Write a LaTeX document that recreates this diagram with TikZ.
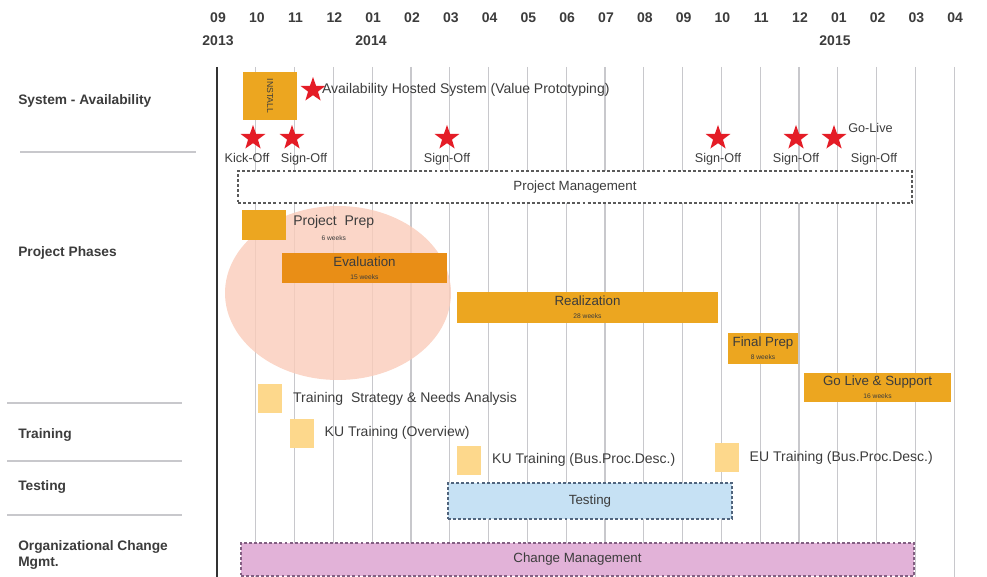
\documentclass[tikz,border=0pt]{standalone}
\usepackage{fontspec}
\setmainfont{Liberation Sans}
\usepackage{tikz}
\usetikzlibrary{shapes.geometric, positioning}
\definecolor{barorange}{RGB}{236,166,32}
\definecolor{evalorange}{RGB}{233,142,22}
\definecolor{salmonfill}{RGB}{250,204,186}
\definecolor{paleyellow}{RGB}{253,216,140}
\definecolor{testblue}{RGB}{198,225,244}
\definecolor{testedge}{RGB}{80,100,125}
\definecolor{changepink}{RGB}{226,178,216}
\definecolor{changeedge}{RGB}{130,95,130}
\definecolor{pmedge}{RGB}{90,90,90}
\definecolor{gridgray}{RGB}{200,200,204}
\definecolor{textgray}{RGB}{60,60,60}
\definecolor{starred}{RGB}{228,28,38}
\newlength\pxu
\setlength\pxu{0.75pt}
\tikzset{
  lbl/.style={font=\fontsize{9.5}{11}\selectfont, text=textgray, inner sep=0pt},
  note/.style={lbl, font=\fontsize{10.5}{12}\selectfont},
  side/.style={font=\fontsize{10.3}{12.5}\selectfont\bfseries, text=textgray,
    anchor=west, align=left, inner sep=0pt},
  month/.style={font=\fontsize{10.5}{12}\selectfont\bfseries, text=textgray, inner sep=0pt},
  phase/.style={rectangle, fill=barorange, inner sep=0pt, align=center,
    font=\fontsize{10}{10}\selectfont, text=textgray},
  sq/.style={rectangle, fill=paleyellow, inner sep=0pt,
    minimum width=24\pxu, minimum height=29\pxu},
  dashbox/.style={rectangle, line width=0.9pt, dash pattern=on 2.2pt off 1.6pt,
    inner sep=0pt, font=\fontsize{10}{11}\selectfont, text=textgray},
  mstone/.style={star, star points=5, star point ratio=2.5, fill=starred,
    inner sep=0pt, minimum size=26\pxu},
  sepline/.style={gridgray, line width=1pt}
}

\begin{document}
\begin{tikzpicture}[x=0.75pt, y=-0.75pt]
  \useasboundingbox (0,0) rectangle (987,577);

  \foreach \m in {1,...,19}
    \draw[gridgray, line width=0.8pt] ({217+38.8*\m},67) -- ({217+38.8*\m},577);
  \draw[black!80, line width=1.6pt] (217,67) -- (217,577);

  \foreach \lbl [count=\i from 0] in {09,10,11,12,01,02,03,04,05,06,07,08,09,10,11,12,01,02,03,04}
    \node[month] (mon\i) at ({218+38.8*\i},18) {\lbl};
  \node[month] (yr13) at (218,41) {2013};
  \node[month] (yr14) at (371,41) {2014};
  \node[month] (yr15) at (835,41) {2015};

  \node[side] (sysav)  at (18,101) {System - Availability};
  \node[side] (phases) at (18,253) {Project Phases};
  \node[side] (train)  at (18,435) {Training};
  \node[side] (test)   at (18,487) {Testing};
  \node[side] (ocm)    at (18,555) {Organizational Change\\Mgmt.};
  \draw[sepline] (20,152) -- (196,152);
  \draw[sepline] (7,403) -- (182,403);
  \draw[sepline] (7,461) -- (182,461);
  \draw[sepline] (7,515) -- (182,515);

  \node[ellipse, fill=salmonfill, fill opacity=0.8, inner sep=0pt,
        minimum width=226\pxu, minimum height=174\pxu] (focus) at (338,293) {};

  \node[phase, minimum width=54\pxu, minimum height=48\pxu] (install) at (270,96) {};
  \node[rotate=-90, inner sep=0pt, font=\fontsize{6.5}{7}\selectfont, text=textgray] (installtxt) at (install) {INSTALL};
  \node[mstone] (hosted) at (313,90) {};
  \node[note, right=1pt of hosted] (hostedtxt) {Availability Hosted System (Value Prototyping)};

  \node[mstone] (ms0) at (253,138) {};
  \node[mstone] (ms1) at (292,138) {};
  \node[mstone] (ms2) at (447,138) {};
  \node[mstone] (ms3) at (718,138) {};
  \node[mstone] (ms4) at (796,138) {};
  \node[mstone] (ms5) at (834,138) {};
  \node[lbl, below=7.5pt of ms0, xshift=-4.5pt] (kick) {Kick-Off};
  \node[lbl, below=7.5pt of ms1, xshift=9pt] (so1) {Sign-Off};
  \node[lbl, below=7.5pt of ms2] (so2) {Sign-Off};
  \node[lbl, below=7.5pt of ms3] (so3) {Sign-Off};
  \node[lbl, below=7.5pt of ms4] (so4) {Sign-Off};
  \node[lbl, below=7.5pt of ms5, xshift=30pt] (so5) {Sign-Off};
  \node[lbl, anchor=west] (golive) at (848,128) {Go-Live};

  \node[dashbox, draw=pmedge, fill=white, minimum width=674\pxu, minimum height=32\pxu] (pm) at (575,187) {Project Management};

  \node[phase, minimum width=44\pxu, minimum height=30\pxu] (prep) at (264,225) {};
  \node[note, anchor=west, align=center] (preptxt) at (293,228) {Project\ \ Prep\\[-1pt]{\tiny 6 weeks}};
  \node[phase, fill=evalorange, minimum width=165\pxu, minimum height=30\pxu] (eval) at (364.5,268) {Evaluation\\{\tiny 15 weeks}};
  \node[phase, minimum width=261\pxu, minimum height=31\pxu] (real) at (587.5,307.5) {Realization\\{\tiny 28 weeks}};
  \node[phase, minimum width=70\pxu, minimum height=31\pxu] (final) at (763,348.5) {Final Prep\\{\tiny 8 weeks}};
  \node[phase, minimum width=147\pxu, minimum height=29\pxu] (golivesup) at (877.5,387) {Go Live \& Support\\{\tiny 16 weeks}};

  \node[sq] (tsna) at (270,398.5) {};
  \node[note, right=8pt of tsna] (tsnatxt) {Training\ \ Strategy \& Needs Analysis};
  \node[sq] (kuov) at (301.5,433) {};
  \node[note, right=8pt of kuov] (kuovtxt) {KU Training (Overview)};
  \node[sq] (kubp) at (469,460) {};
  \node[note, right=8pt of kubp] (kubptxt) {KU Training (Bus.Proc.Desc.)};
  \node[sq] (eubp) at (726.5,457.5) {};
  \node[note, right=8pt of eubp] (eubptxt) {EU Training (Bus.Proc.Desc.)};

  \node[dashbox, draw=testedge, fill=testblue, minimum width=284\pxu, minimum height=36\pxu] (testing) at (590,501) {Testing};
  \node[dashbox, draw=changeedge, fill=changepink, minimum width=673\pxu, minimum height=33\pxu] (change) at (577.5,559.5) {Change Management};
\end{tikzpicture}
\end{document}
